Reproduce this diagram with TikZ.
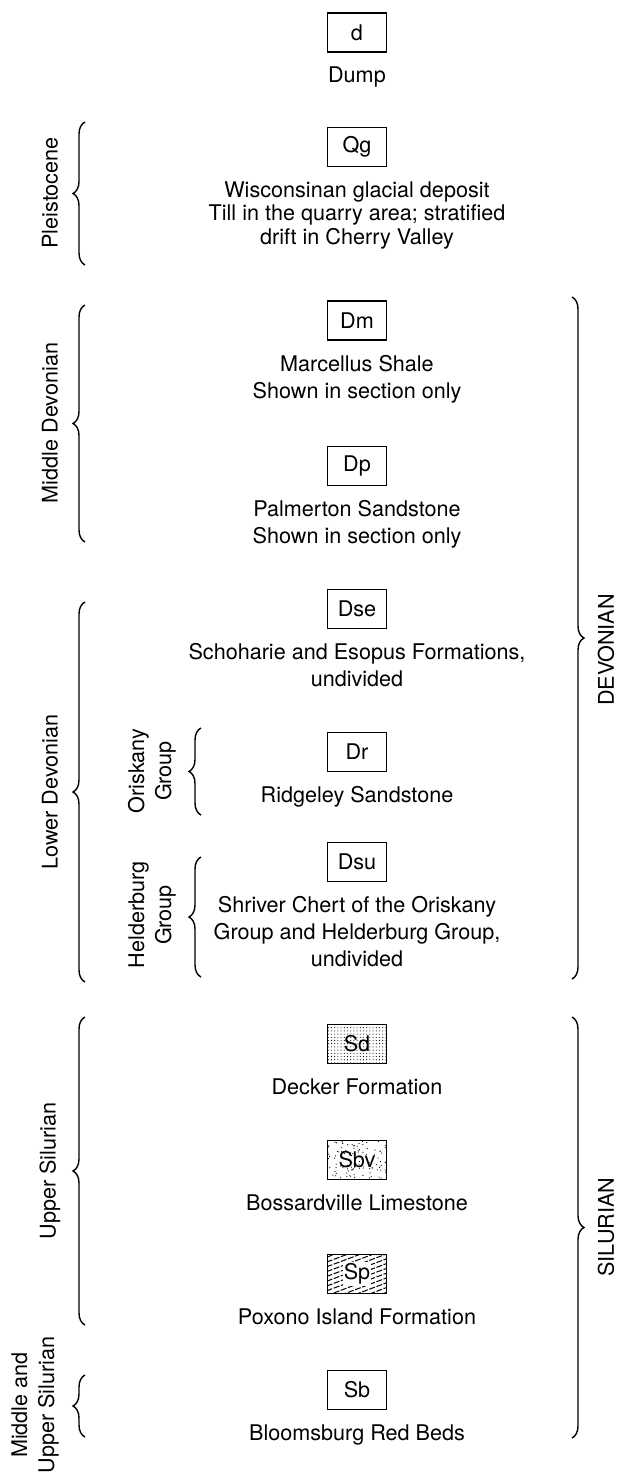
\documentclass[tikz,border=0pt]{standalone}
\usepackage{fontspec}
\setmainfont{TeX Gyre Heros}
\usetikzlibrary{positioning,decorations.pathreplacing}

\begin{document}
\begin{tikzpicture}[
  x=0.5pt, y=-0.5pt,
  every node/.style={inner sep=0pt, align=center, font=\fontsize{10.8}{13.5}\selectfont},
  unit/.style={draw, line width=0.6pt, minimum width=29.5pt, minimum height=19.5pt},
  desc/.style={below=7pt of #1},
  brc/.style={decorate, decoration={brace, amplitude=6pt}, line width=0.7pt},
  side/.style={rotate=90},
  finedots/.style={path picture={
    \foreach \i in {0,...,18} \foreach \j in {0,...,12}
      \fill ([xshift={\i*1.6pt+0.4pt}, yshift={\j*1.6pt+0.3pt}]path picture bounding box.south west) circle (0.28pt);}},
  stipple/.style={path picture={
    \pgfmathsetseed{31}
    \foreach \k in {1,...,110}
      \fill ([xshift={rnd*29.5pt}, yshift={rnd*19.5pt}]path picture bounding box.south west) circle (0.3pt);}},
  hatch/.style={path picture={
    \foreach \i in {-8,...,8}
      \draw[line width=0.5pt, dash pattern=on 3pt off 0.8pt]
        ([xshift=-4pt, yshift={\i*2.4pt}]path picture bounding box.south west) -- ++(40pt,15pt);
    \fill[white] ([xshift=-7pt, yshift=-6pt]path picture bounding box.center)
      rectangle ([xshift=7pt, yshift=6pt]path picture bounding box.center);}},
]
  \useasboundingbox (0,0) rectangle (619,1479);

  % Map units
  \node[unit] (d) at (357,32.5) {d};
  \node[desc=d] (dump) {Dump};

  \node[unit] (qg) at (357,147) {Qg};
  \node[desc=qg, font=\fontsize{10.8}{11.8}\selectfont] (qgtxt) {Wisconsinan glacial deposit\\Till in the quarry area; stratified\\drift in Cherry Valley};

  \node[unit] (dm) at (357,320.5) {Dm};
  \node[desc=dm] (dmtxt) {Marcellus Shale\\Shown in section only};

  \node[unit] (dp) at (357,466) {Dp};
  \node[desc=dp] (dptxt) {Palmerton Sandstone\\Shown in section only};

  \node[unit] (dse) at (357,609) {Dse};
  \node[desc=dse] (dsetxt) {Schoharie and Esopus Formations,\\undivided};

  \node[unit] (dr) at (357,752) {Dr};
  \node[desc=dr] (drtxt) {Ridgeley Sandstone};

  \node[unit] (dsu) at (357,862) {Dsu};
  \node[desc=dsu] (dsutxt) {Shriver Chert of the Oriskany\\Group and Helderburg Group,\\undivided};

  \node[unit, finedots] (sd) at (357,1044) {Sd};
  \node[desc=sd] (sdtxt) {Decker Formation};

  \node[unit, stipple] (sbv) at (357,1160) {Sbv};
  \node[desc=sbv] (sbvtxt) {Bossardville Limestone};

  \node[unit, hatch] (sp) at (357,1274) {Sp};
  \node[desc=sp] (sptxt) {Poxono Island Formation};

  \node[unit] (sb) at (357,1390) {Sb};
  \node[desc=sb] (sbtxt) {Bloomsburg Red Beds};

  % Series braces (left)
  \draw[brc] (85,265) -- (85,122);
  \node[side] (pleis) at (50,193) {Pleistocene};
  \draw[brc] (85,542) -- (85,305);
  \node[side] (middev) at (50,423) {Middle Devonian};
  \draw[brc] (85,982) -- (85,602);
  \node[side] (lowdev) at (50,792) {Lower Devonian};
  \draw[brc] (85,1325) -- (85,1017);
  \node[side] (upsil) at (50,1171) {Upper Silurian};
  \draw[brc] (85,1437) -- (85,1375);
  \node[side] (midsil) at (35,1405) {Middle and\\Upper Silurian};

  % Groups
  \draw[brc] (201,815) -- (201,728);
  \node[side] (orisk) at (152,771) {Oriskany\\Group};
  \draw[brc] (201,977) -- (201,857);
  \node[side] (helder) at (152,915) {Helderburg\\Group};

  % Systems (right)
  \draw[brc] (572,297) -- (572,979);
  \node[side] (devon) at (606,650) {DEVONIAN};
  \draw[brc] (572,1017) -- (572,1438);
  \node[side] (silur) at (606,1227) {SILURIAN};
\end{tikzpicture}
\end{document}
